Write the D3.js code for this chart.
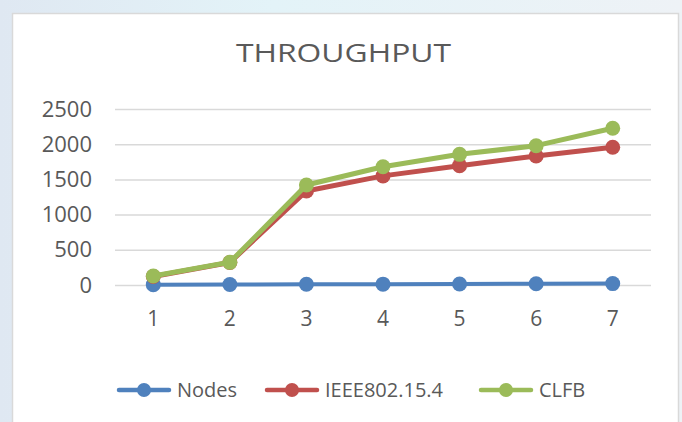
<!DOCTYPE html>
<html><head><meta charset="utf-8">
<script src="https://cdn.jsdelivr.net/npm/d3@7/dist/d3.min.js"></script>
<style>body{margin:0;padding:0;overflow:hidden;}</style>
</head><body><div id="chart"></div>
<script>
const categories = ["1","2","3","4","5","6","7"];
const nodes = [5, 8, 10, 12, 15, 18, 20];
const ieee = [120, 320, 1335, 1550, 1695, 1832, 1956];
const clfb = [128, 322, 1420, 1680, 1856, 1979, 2226];
const yTicks = [0, 500, 1000, 1500, 2000, 2500];
const seriesNames = ["Nodes", "IEEE802.15.4", "CLFB"];
const colors = ["#4F81BD", "#C0504D", "#9BBB59"];

const W = 682, H = 422;
const svg = d3.select("#chart").append("svg").attr("width", W).attr("height", H);
const defs = svg.append("defs");
const g1 = defs.append("linearGradient").attr("id","bg").attr("x1",0).attr("y1",0).attr("x2",1).attr("y2",0);
g1.append("stop").attr("offset","0").attr("stop-color","#dfe8f2");
g1.append("stop").attr("offset","0.4").attr("stop-color","#e3f3f8");
g1.append("stop").attr("offset","1").attr("stop-color","#eef2f6");
svg.append("rect").attr("width",W).attr("height",H).attr("fill","url(#bg)");
svg.append("rect").attr("x",12.5).attr("y",13.5).attr("width",666).attr("height",420)
  .attr("fill","#fff").attr("stroke","#d9d9d9").attr("stroke-width",1.5);

const font = "'Open Sans', 'Liberation Sans', sans-serif";
const txt = "#595959";

svg.append("text").attr("x",236).attr("y",62)
  .attr("textLength",215).attr("lengthAdjust","spacingAndGlyphs")
  .attr("font-family",font).attr("font-size",25).attr("fill",txt).text("THROUGHPUT");

const x = d3.scaleBand().domain(categories).range([115, 651]);
const y = d3.scaleLinear().domain([0, 2500]).range([285, 109]);

const yAxis = svg.append("g").attr("transform","translate(115,0)")
  .call(d3.axisLeft(y).tickValues(yTicks).tickFormat(d3.format("d")).tickSize(-536).tickPadding(23));
yAxis.select(".domain").remove();
yAxis.selectAll(".tick line").attr("stroke","#d9d9d9").attr("stroke-width",1.5);
yAxis.selectAll(".tick text").attr("font-family",font).attr("font-size",22).attr("fill",txt);

const xAxis = svg.append("g").attr("transform","translate(0,285)")
  .call(d3.axisBottom(x).tickSize(0).tickPadding(26));
xAxis.select(".domain").remove();
xAxis.selectAll(".tick text").attr("font-family",font).attr("font-size",21).attr("fill",txt);

const data = [nodes, ieee, clfb];
const line = d3.line().x((d,i)=>x(categories[i])+x.bandwidth()/2).y(d=>y(d));
data.forEach((s, k) => {
  const g = svg.append("g");
  g.append("path").datum(s).attr("d", line).attr("fill","none")
    .attr("stroke", colors[k]).attr("stroke-width", k===0 ? 4 : 5).attr("stroke-linejoin","round");
  g.selectAll("circle").data(s).join("circle")
    .attr("cx",(d,i)=>x(categories[i])+x.bandwidth()/2).attr("cy",d=>y(d))
    .attr("r",7.5).attr("fill",colors[k]);
});

const legX = [117, 265, 479];
const legend = svg.append("g");
seriesNames.forEach((n, k) => {
  const lg = legend.append("g").attr("transform",`translate(${legX[k]},390)`);
  lg.append("line").attr("x1",2).attr("x2",52).attr("y1",0).attr("y2",0)
    .attr("stroke",colors[k]).attr("stroke-width",4.5).attr("stroke-linecap","round");
  lg.append("circle").attr("cx",27).attr("cy",0).attr("r",7).attr("fill",colors[k]);
  lg.append("text").attr("x",60).attr("y",7).attr("font-family",font).attr("font-size",20)
    .attr("fill",txt).text(n);
});
</script></body></html>
